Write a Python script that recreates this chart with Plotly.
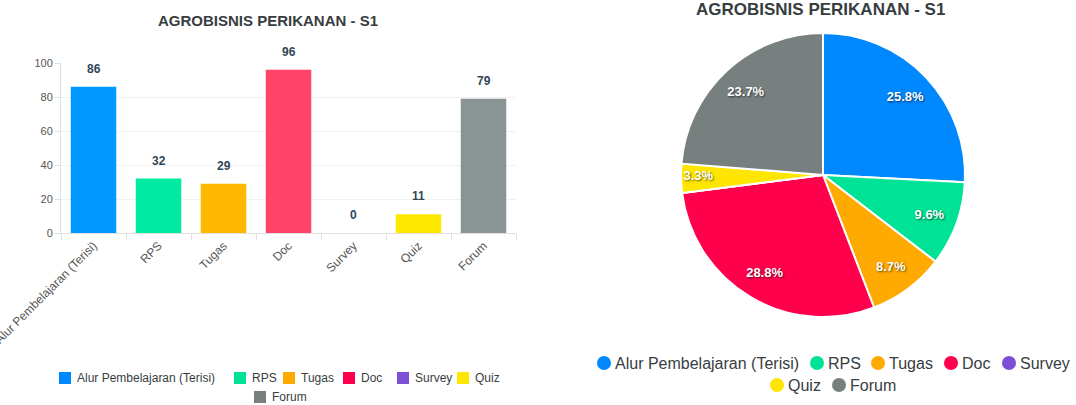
import plotly.graph_objects as go

# ---------------- data ----------------
categories = ["Alur Pembelajaran (Terisi)", "RPS", "Tugas", "Doc", "Survey", "Quiz", "Forum"]
counts = [86, 32, 29, 96, 0, 11, 79]
y_ticks = [0, 20, 40, 60, 80, 100]
chart_title = "AGROBISNIS PERIKANAN - S1"

# ---------------- styles ----------------
bar_colors = ["#0099FF", "#00EBA1", "#FFB800", "#FF4468", "#7E57D9", "#FFE800", "#8A9495"]
pie_colors = ["#0088FF", "#00E396", "#FFAA00", "#FF004D", "#7D4FD6", "#FFE600", "#78807F"]

# legend layout (pixel positions of each legend symbol's left edge, and row centre)
bar_legend_x = [59, 234, 283, 343, 397, 457, 254]
bar_legend_y = [378, 378, 378, 378, 378, 378, 397]
pie_legend_x = [597, 810, 871, 944, 1002, 770, 832]
pie_legend_y = [363, 363, 363, 363, 363, 385, 385]

W, H = 1076, 405
FONT = "Liberation Sans, Arial, sans-serif"
TEXT_COLOR = "#373d3f"


def fx(px):
    return px / W


def fy(py):
    return 1 - py / H


fig = go.Figure()

# ---------------- bar chart ----------------
for i, (cat, val) in enumerate(zip(categories, counts)):
    fig.add_trace(go.Bar(
        x=[cat], y=[val], name=cat,
        marker=dict(color=bar_colors[i], line=dict(width=0)),
        width=0.7, showlegend=False,
        xaxis="x", yaxis="y",
    ))

for cat, val in zip(categories, counts):
    fig.add_annotation(
        x=cat, y=val, xref="x", yref="y", text=str(val), showarrow=False,
        xanchor="center", yanchor="middle",
        yshift=18, font=dict(family=FONT, size=12, color="#304758", weight="bold"),
    )

# ---------------- pie chart ----------------
pie_domain = dict(x=[fx(681), fx(965)], y=[fy(317), fy(33)])
fig.add_trace(go.Pie(
    labels=categories, values=counts, sort=False, direction="clockwise", rotation=0,
    marker=dict(colors=pie_colors, line=dict(color="white", width=2)),
    textinfo="none",
    domain=pie_domain,
    showlegend=False,
    hoverinfo="label+value+percent",
))
# text-only ring layer carrying the percentage labels (same data, transparent fill)
pie_text = ["%{percent:.1%}" if v > 0 else "" for v in counts]
fig.add_trace(go.Pie(
    labels=categories, values=counts, sort=False, direction="clockwise", rotation=0,
    hole=0.6,
    marker=dict(colors=["rgba(0,0,0,0)"] * len(categories), line=dict(width=0)),
    texttemplate=pie_text, textposition="inside", insidetextorientation="horizontal",
    textfont=dict(family=FONT, color="white", size=13, weight="bold",
                  shadow="1px 1px 2px rgba(0,0,0,0.6)"),
    domain=pie_domain,
    showlegend=False,
    hoverinfo="skip",
))

# ---------------- legends ----------------
shapes = []
for i, cat in enumerate(categories):
    # bar chart legend (squares)
    shapes.append(dict(
        type="rect", xref="paper", yref="paper", xsizemode="pixel", ysizemode="pixel",
        xanchor=fx(bar_legend_x[i]), yanchor=fy(bar_legend_y[i]),
        x0=0, x1=12, y0=-6, y1=6,
        fillcolor=pie_colors[i], line=dict(width=0),
    ))
    fig.add_annotation(
        x=fx(bar_legend_x[i] + 16), y=fy(bar_legend_y[i]), xref="paper", yref="paper",
        text=cat, showarrow=False, xanchor="left", yanchor="middle",
        font=dict(family=FONT, size=12, color=TEXT_COLOR),
    )
    # pie legend (circles)
    shapes.append(dict(
        type="circle", xref="paper", yref="paper", xsizemode="pixel", ysizemode="pixel",
        xanchor=fx(pie_legend_x[i]), yanchor=fy(pie_legend_y[i]),
        x0=0, x1=14, y0=-7, y1=7,
        fillcolor=pie_colors[i], line=dict(width=0),
    ))
    fig.add_annotation(
        x=fx(pie_legend_x[i] + 16), y=fy(pie_legend_y[i]), xref="paper", yref="paper",
        text=cat, showarrow=False, xanchor="left", yanchor="middle",
        font=dict(family=FONT, size=16, color=TEXT_COLOR),
    )

# titles
fig.add_annotation(x=fx(268), y=fy(20), xref="paper", yref="paper", text=chart_title,
                   showarrow=False, xanchor="center", yanchor="middle",
                   font=dict(family=FONT, size=15, color=TEXT_COLOR, weight="bold"))
fig.add_annotation(x=fx(820), y=fy(9), xref="paper", yref="paper", text=chart_title,
                   showarrow=False, xanchor="center", yanchor="middle",
                   font=dict(family=FONT, size=17, color=TEXT_COLOR, weight="bold"))

fig.update_layout(
    width=W, height=H,
    margin=dict(l=0, r=0, t=0, b=0),
    paper_bgcolor="white", plot_bgcolor="white",
    font=dict(family=FONT, color=TEXT_COLOR),
    barmode="overlay",
    showlegend=False,
    uniformtext=dict(minsize=13, mode="show"),
    shapes=shapes,
    xaxis=dict(
        domain=[fx(61), fx(516)], type="category", automargin=False,
        categoryorder="array", categoryarray=categories, range=[-0.5, 6.5],
        tickangle=-45, ticks="outside", tickson="boundaries", ticklen=6,
        tickcolor="#e0e0e0", showline=True, linecolor="#e0e0e0", linewidth=1,
        showgrid=False, tickfont=dict(family=FONT, size=12, color="#555"),
        fixedrange=True,
    ),
    yaxis=dict(
        domain=[fy(233), fy(63)], range=[0, 100], tickvals=y_ticks, automargin=False,
        showgrid=True, gridcolor="#f1f1f1", zeroline=False,
        showline=True, linecolor="#e0e0e0", ticks="outside", ticklen=5,
        tickcolor="#e0e0e0", tickfont=dict(family=FONT, size=11, color="#555"),
        fixedrange=True,
    ),
)

fig.write_html(
    "out.html",
    config={"displayModeBar": False},
    post_script=(
        "document.body.style.margin='0';"
        "document.body.style.overflow='hidden';"
        "document.documentElement.style.overflow='hidden';"
    ),
)
